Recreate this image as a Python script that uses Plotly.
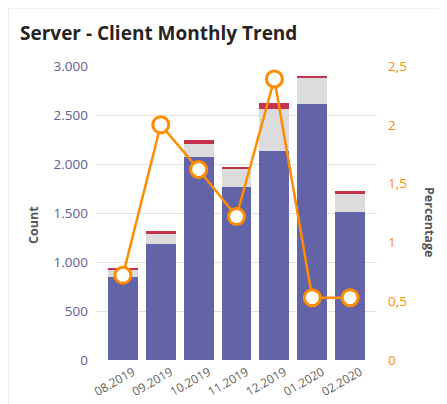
import plotly.graph_objects as go

months = ["08.2019", "09.2019", "10.2019", "11.2019", "12.2019", "01.2020", "02.2020"]
server_count = [845, 1180, 2075, 1770, 2135, 2610, 1510]
client_count = [78, 110, 130, 175, 425, 270, 190]
error_count = [15, 30, 35, 25, 60, 20, 20]
percentage = [0.72, 2.0, 1.62, 1.22, 2.39, 0.53, 0.53]

count_ticks = [0, 500, 1000, 1500, 2000, 2500, 3000]
pct_ticks = [0, 0.5, 1, 1.5, 2, 2.5]

PURPLE = "#6264A7"
GRAY = "#DCDCDC"
RED = "#C4314B"
ORANGE = "#FF8C00"
FONT = "Open Sans"

fig = go.Figure()
fig.add_bar(x=months, y=server_count, marker=dict(color=PURPLE, line=dict(width=0)), name="Server")
fig.add_bar(x=months, y=client_count, marker=dict(color=GRAY, line=dict(width=0)), name="Client")
fig.add_bar(x=months, y=error_count, marker=dict(color=RED, line=dict(width=0)), name="Error")
fig.add_scatter(
    x=months, y=percentage, yaxis="y2", mode="lines+markers", name="Percentage",
    line=dict(color=ORANGE, width=2.5),
    marker=dict(size=16, color="white", line=dict(color=ORANGE, width=3)),
)

fig.update_layout(
    width=447, height=404,
    margin=dict(l=88, r=78, t=58, b=52),
    paper_bgcolor="white", plot_bgcolor="white",
    barmode="stack", bargap=0.21,
    showlegend=False,
    separators=",.",
    font=dict(family=FONT),
    title=dict(
        text="<b>Server - Client Monthly Trend</b>",
        x=12 / 447, xref="container", xanchor="left",
        y=1 - 25 / 404, yref="container", yanchor="middle",
        font=dict(family=FONT, size=19, color="#252423"),
    ),
    xaxis=dict(
        type="category", range=[-0.71, 6.71], automargin=False,
        tickangle=-30, tickfont=dict(size=12, color="#605E5C"),
        showgrid=False, showline=False, zeroline=False,
        ticks="", ticklabelshift=10, ticklabelstandoff=2,
    ),
    yaxis=dict(
        range=[0, 3000], tickvals=count_ticks, automargin=False,
        tickformat=",d",
        tickfont=dict(size=13.5, color="#5F6093"),
        gridcolor="#E1E1E1", gridwidth=1,
        zeroline=False, showline=False, ticks="",
        ticklabelstandoff=7,
    ),
    yaxis2=dict(
        range=[0, 2.5], tickvals=pct_ticks, overlaying="y", side="right",
        automargin=False,
        tickfont=dict(size=13.5, color=ORANGE),
        showgrid=False, zeroline=False, showline=False, ticks="",
        ticklabelstandoff=10,
    ),
    annotations=[
        dict(text="<b>Count</b>", xref="paper", yref="paper",
             x=(33 - 96) / 281, y=(360 - 225) / 294, textangle=-90,
             xanchor="center", yanchor="middle",
             showarrow=False, font=dict(size=12.5, color="#555555", family=FONT)),
        dict(text="<b>Percentage</b>", xref="paper", yref="paper",
             x=(429 - 96) / 281, y=(360 - 222) / 294, textangle=90,
             xanchor="center", yanchor="middle",
             showarrow=False, font=dict(size=12.5, color="#555555", family=FONT)),
    ],
    shapes=[
        dict(type="rect", xref="paper", yref="paper",
             x0=(8.5 - 96) / 281, x1=(470 - 96) / 281,
             y0=(360 - 430) / 294, y1=(360 - 8.5) / 294,
             line=dict(color="#EDEDED", width=1), fillcolor="rgba(0,0,0,0)", layer="below"),
    ],
)

fig.write_html("out.html")
